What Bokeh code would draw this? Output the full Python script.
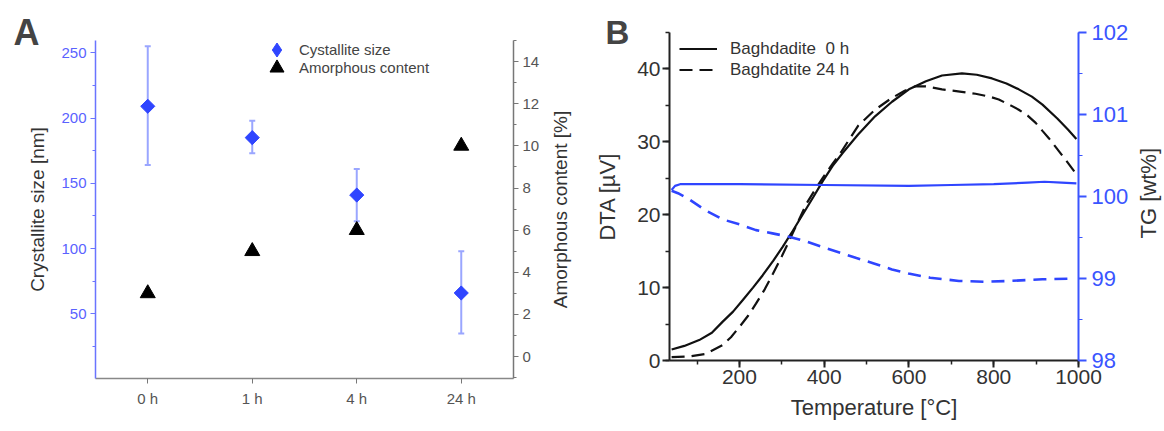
import numpy as np
from bokeh.plotting import figure
from bokeh.layouts import row
from bokeh.models import (Range1d, LinearAxis, SingleIntervalTicker, FactorRange,
                          Whisker, ColumnDataSource, Legend, LegendItem, TeeHead, Label)
from bokeh.embed import file_html
from bokeh.resources import INLINE

# ---------------- Panel A data ----------------
times = ["0 h", "1 h", "4 h", "24 h"]
size_nm = [209, 185, 141, 66]
size_hi = [255, 198, 161, 98]
size_lo = [164, 173, 121, 35]
amorph_pct = [3.0, 5.0, 6.0, 10.0]

# ---------------- Panel B data ----------------
t_dta0 = [40, 70, 105, 135, 160, 185, 208, 232, 255, 280, 302, 326, 350, 374, 397, 420,
          444, 480, 520, 560, 600, 640, 678, 725, 760, 796, 830, 859, 890, 915, 950, 975, 995]
dta0 = [1.5, 2.0, 2.8, 3.8, 5.3, 6.7, 8.3, 10.0, 11.7, 13.7, 15.6, 17.8, 20.1, 22.4, 24.65, 26.7,
        28.5, 31.0, 33.5, 35.5, 37.2, 38.3, 39.1, 39.4, 39.2, 38.7, 38.0, 37.2, 36.2, 35.1, 33.2, 31.7, 30.4]
t_dta24 = [40, 81, 120, 160, 180, 200, 220, 239, 260, 279, 300, 318, 338, 358, 378, 397, 420,
           441, 480, 520, 559, 590, 614, 640, 678, 720, 757, 790, 812, 840, 859, 880, 899, 915,
           930, 950, 970, 992]
dta24 = [0.45, 0.55, 0.9, 2.1, 3.2, 4.6, 6.1, 7.8, 9.8, 11.9, 14.3, 16.5, 19.0, 21.5, 23.4, 25.1, 27.0,
         28.7, 32.2, 34.4, 36.0, 37.0, 37.6, 37.6, 37.2, 36.9, 36.6, 36.2, 35.8, 35.0, 34.4, 33.6, 32.6, 31.5,
         30.5, 29.0, 27.5, 25.8]
t_tg0 = [40, 48, 60, 200, 400, 600, 700, 800, 880, 920, 960, 995]
tg0 = [100.08, 100.13, 100.15, 100.15, 100.14, 100.13, 100.14, 100.15, 100.17, 100.18, 100.17, 100.16]
t_tg24 = [40, 55, 80, 120, 161, 200, 239, 278, 317, 358, 398, 440, 476, 519, 560, 599, 650,
          718, 780, 836, 915, 990]
tg24 = [100.07, 100.04, 99.97, 99.83, 99.72, 99.66, 99.59, 99.55, 99.51, 99.45, 99.38, 99.31, 99.25,
        99.18, 99.11, 99.06, 99.01, 98.97, 98.96, 98.97, 98.99, 99.00]

FONT = "Liberation Sans"
BLUE = "#2f45ff"
BLUE_AX = "#6a74ff"
ERR = "#9aa6ff"

# ================= Panel A =================
pA = figure(width=585, height=431, output_backend="svg", toolbar_location=None,
            x_range=FactorRange(factors=times), y_range=Range1d(0.5, 259.4),
            min_border_left=95, min_border_right=72, min_border_top=40, min_border_bottom=53,
            frame_align=False)
pA.extra_y_ranges = {"am": Range1d(-1.04, 15.0)}
pA.xgrid.visible = False
pA.ygrid.visible = False
pA.outline_line_color = None

pA.title.text = "A"
pA.title.align = "left"
pA.title.offset = -82
pA.title.standoff = -24
pA.title.text_font = FONT
pA.title.text_font_style = "bold"
pA.title.text_font_size = "36px"
pA.title.text_line_height = 0.7

src = ColumnDataSource(dict(t=times, size=size_nm, hi=size_hi, lo=size_lo, am=amorph_pct))
wh = Whisker(base="t", upper="hi", lower="lo", source=src, line_color=ERR, line_width=2,
             upper_head=TeeHead(size=6, line_color=ERR, line_width=2),
             lower_head=TeeHead(size=6, line_color=ERR, line_width=2))
pA.add_layout(wh)
# diamond hidden under the rotated square; it provides the legend glyph
r_proxy = pA.scatter(x="t", y="size", source=src, marker="diamond", size=13,
                     fill_color=BLUE, line_color=BLUE)
r_size = pA.scatter(x="t", y="size", source=src, marker="square", angle=np.pi / 4, size=10,
                    fill_color=BLUE, line_color=BLUE)
r_am = pA.scatter(x="t", y="am", source=src, marker="triangle", size=15, y_range_name="am",
                  fill_color="black", line_color="black")

yl = pA.yaxis[0]
yl.ticker = SingleIntervalTicker(interval=50, num_minor_ticks=2)
yl.axis_line_color = BLUE_AX
yl.axis_line_width = 1.5
yl.major_tick_line_color = BLUE_AX
yl.minor_tick_line_color = BLUE_AX
yl.major_label_text_color = "#5a62ff"
yl.major_label_text_font = FONT
yl.major_label_text_font_size = "15px"
yl.major_tick_out = 5
yl.major_tick_in = 0
yl.minor_tick_out = 3
yl.minor_tick_in = 0
yl.major_label_standoff = 4
yl.axis_label = "Crystallite size [nm]"
yl.axis_label_text_font = FONT
yl.axis_label_text_font_style = "normal"
yl.axis_label_text_font_size = "19px"
yl.axis_label_text_color = "#333333"
yl.axis_label_standoff = 10

xa = pA.xaxis[0]
xa.axis_line_color = "#888888"
xa.axis_line_width = 1.5
xa.major_tick_line_color = "#777777"
xa.major_tick_out = 5
xa.major_tick_in = 0
xa.major_label_text_font = FONT
xa.major_label_text_font_size = "15px"
xa.major_label_text_color = "#555555"
xa.major_label_standoff = 6

ar = LinearAxis(y_range_name="am", ticker=SingleIntervalTicker(interval=2, num_minor_ticks=2))
ar.axis_line_color = "#777777"
ar.axis_line_width = 1.5
ar.major_tick_line_color = "#777777"
ar.minor_tick_line_color = "#777777"
ar.major_tick_out = 5
ar.major_tick_in = 0
ar.minor_tick_out = 3
ar.minor_tick_in = 0
ar.major_label_text_font = FONT
ar.major_label_text_font_size = "15px"
ar.major_label_text_color = "#555555"
ar.major_label_standoff = 4
pA.add_layout(ar, "right")

# right-axis title, reading bottom-to-top, centred on the axis (in the right-hand panel)
pA.add_layout(Label(x=4.45, y=6.98, y_range_name="am", text="Amorphous content [%]",
                    angle=np.pi / 2, text_align="center", text_baseline="middle",
                    text_font=FONT, text_font_size="19px", text_color="#333333"), "right")

legA1 = Legend(items=[LegendItem(label="Cystallite size", renderers=[r_proxy])],
               location=(164, 311), padding=0, spacing=0, margin=0,
               label_height=19, glyph_height=35, glyph_width=35, label_standoff=5,
               label_text_font=FONT, label_text_font_size="15px", label_text_color="#444444",
               border_line_color=None, background_fill_alpha=0)
legA2 = Legend(items=[LegendItem(label="Amorphous content", renderers=[r_am])],
               location=(164, 293), padding=0, spacing=0, margin=0,
               label_height=19, glyph_height=35, glyph_width=35, label_standoff=5,
               label_text_font=FONT, label_text_font_size="15px", label_text_color="#444444",
               border_line_color=None, background_fill_alpha=0)
pA.add_layout(legA1)
pA.add_layout(legA2)

# ================= Panel B =================
pB = figure(width=579, height=431, output_backend="svg", toolbar_location=None,
            x_range=Range1d(35, 1000), y_range=Range1d(0, 45),
            min_border_left=84, min_border_right=86, min_border_top=32, min_border_bottom=71,
            frame_align=False)
pB.extra_y_ranges = {"tg": Range1d(98, 102)}
pB.xgrid.visible = False
pB.ygrid.visible = False
pB.outline_line_color = None

pB.title.text = "B"
pB.title.align = "left"
pB.title.offset = -64
pB.title.standoff = -36
pB.title.text_font = FONT
pB.title.text_font_style = "bold"
pB.title.text_font_size = "33px"
pB.title.text_line_height = 0.7

r0 = pB.line(t_dta0, dta0, line_color="#111111", line_width=2.2)
r24 = pB.line(t_dta24, dta24, line_color="#111111", line_width=2.2, line_dash="13 7")
pB.line(t_tg0, tg0, line_color=BLUE, line_width=2.2, y_range_name="tg")
pB.line(t_tg24, tg24, line_color=BLUE, line_width=2.6, line_dash="13 8", y_range_name="tg")

for ax, tk in ((pB.xaxis[0], SingleIntervalTicker(interval=200, num_minor_ticks=2)),
               (pB.yaxis[0], SingleIntervalTicker(interval=10, num_minor_ticks=2))):
    ax.ticker = tk
    ax.axis_line_color = "#222222"
    ax.axis_line_width = 2
    ax.major_tick_line_color = "#222222"
    ax.minor_tick_line_color = "#222222"
    ax.major_tick_line_width = 2
    ax.minor_tick_line_width = 1.5
    ax.major_tick_out = 7
    ax.major_tick_in = 0
    ax.minor_tick_out = 4
    ax.minor_tick_in = 0
    ax.major_label_text_font = FONT
    ax.major_label_text_font_size = "21px"
    ax.major_label_text_color = "#333333"
    ax.major_label_standoff = 2
    ax.axis_label_text_font = FONT
    ax.axis_label_text_font_style = "normal"
    ax.axis_label_text_font_size = "22px"
    ax.axis_label_text_color = "#333333"
pB.xaxis[0].axis_label = "Temperature [°C]"
pB.xaxis[0].axis_label_standoff = 8
pB.yaxis[0].axis_label = "DTA [µV]"
pB.yaxis[0].axis_label_standoff = 14

br = LinearAxis(y_range_name="tg", ticker=SingleIntervalTicker(interval=1, num_minor_ticks=2))
br.axis_line_color = "#3a55ff"
br.axis_line_width = 2
br.major_tick_line_color = "#3a55ff"
br.minor_tick_line_color = "#3a55ff"
br.major_tick_line_width = 2
br.major_tick_out = 8
br.major_tick_in = 0
br.minor_tick_out = 4
br.minor_tick_in = 0
br.major_label_text_font = FONT
br.major_label_text_font_size = "22px"
br.major_label_text_color = "#3a55ff"
br.major_label_standoff = 5
pB.add_layout(br, "right")

pB.add_layout(Label(x=1166, y=100.04, y_range_name="tg", text="TG [wt%]",
                    angle=np.pi / 2, text_align="center", text_baseline="middle",
                    text_font=FONT, text_font_size="22px", text_color="#333333"), "right")

legB = Legend(items=[LegendItem(label="Baghdadite  0 h", renderers=[r0]),
                     LegendItem(label="Baghdatite 24 h", renderers=[r24])],
              location=(10, 280), padding=0, spacing=0, margin=0,
              label_height=21, glyph_height=21, glyph_width=38, label_standoff=13,
              label_text_font=FONT, label_text_font_size="17px", label_text_color="#333333",
              border_line_color=None, background_fill_alpha=0)
pB.add_layout(legB)

layout = row(pA, pB)
open("out.html", "w").write(file_html(layout, INLINE))
